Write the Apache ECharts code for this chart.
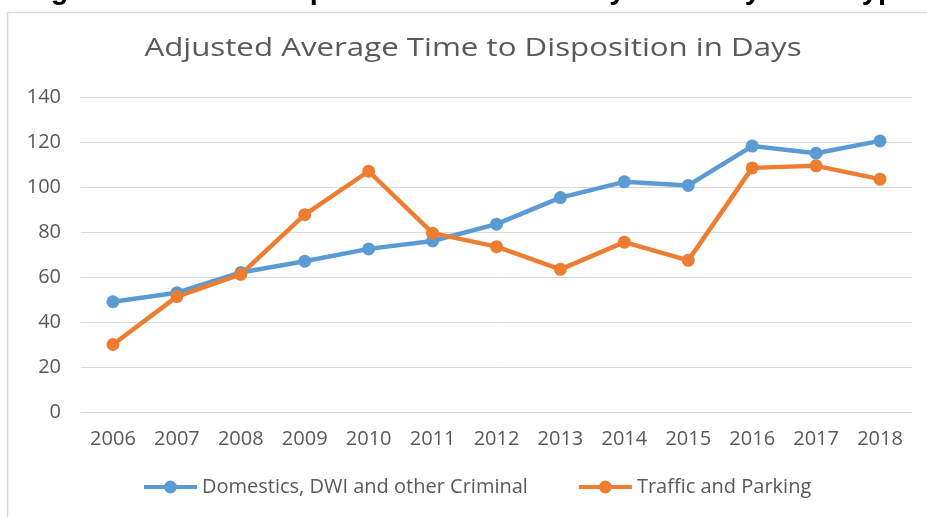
<!DOCTYPE html>
<html>
<head>
<meta charset="utf-8">
<script src="https://cdn.jsdelivr.net/npm/echarts@6/dist/echarts.min.js"></script>
<style>
html,body{margin:0;padding:0;background:#fff;}
#c{width:927px;height:517px;}
</style>
</head>
<body>
<div id="c"></div>
<script>
const figureTitle = "Figure 6. Time to Disposition of Non-Felony Cases by Case Type";
const chartTitle = "Adjusted Average Time to Disposition in Days";
const years = ["2006","2007","2008","2009","2010","2011","2012","2013","2014","2015","2016","2017","2018"];
const seriesNames = ["Domestics, DWI and other Criminal", "Traffic and Parking"];
const criminal = [49, 53, 62, 67, 72.5, 76, 83.5, 95.3, 102.3, 100.7, 118.2, 115, 120.5];
const traffic = [30, 51.3, 61.2, 87.7, 107, 79.5, 73.5, 63.4, 75.5, 67.4, 108.5, 109.4, 103.5];
const yTicks = [0, 20, 40, 60, 80, 100, 120, 140];

const font = "'Open Sans', sans-serif";
const chart = echarts.init(document.getElementById('c'), null, {renderer: 'canvas'});
chart.setOption({
  animation: false,
  backgroundColor: '#fff',
  graphic: [
    {type: 'rect', shape: {x: 7.5, y: 12.5, width: 960, height: 560}, style: {fill: 'none', stroke: '#d9d9d9', lineWidth: 1.5}, z: -1},
    {type: 'text', x: 25, y: 5, style: {text: figureTitle, font: "bold 29px 'Liberation Sans', Arial, sans-serif", fill: '#000', verticalAlign: 'bottom'}},
    {type: 'text', x: 473, y: 49, scaleX: 1.25, style: {text: chartTitle, font: "25px 'Open Sans', sans-serif", fill: '#595959', align: 'center', verticalAlign: 'middle'}}
  ],
  grid: {left: 81, right: 15, top: 97, bottom: 105, containLabel: false},
  legend: {
    top: 472,
    left: 137,
    itemWidth: 53,
    itemHeight: 16,
    itemGap: 49,
    lineStyle: {width: 4},
    textStyle: {fontFamily: font, fontSize: 20, color: '#595959'},
    data: seriesNames
  },
  xAxis: {
    type: 'category',
    data: years,
    boundaryGap: true,
    axisLine: {show: true, lineStyle: {color: '#d9d9d9'}},
    axisTick: {show: false},
    axisLabel: {fontFamily: font, fontSize: 20, color: '#595959', margin: 17}
  },
  yAxis: {
    type: 'value',
    min: yTicks[0],
    max: yTicks[yTicks.length - 1],
    interval: 20,
    axisLine: {show: false},
    axisTick: {show: false},
    splitLine: {lineStyle: {color: '#d9d9d9', width: 1}},
    axisLabel: {fontFamily: font, fontSize: 20, color: '#595959', margin: 20}
  },
  series: [
    {
      name: seriesNames[0], type: 'line', data: criminal,
      symbol: 'circle', symbolSize: 13,
      lineStyle: {width: 4.5, color: '#5B9BD5'},
      itemStyle: {color: '#5B9BD5'}
    },
    {
      name: seriesNames[1], type: 'line', data: traffic,
      symbol: 'circle', symbolSize: 13,
      lineStyle: {width: 4.5, color: '#ED7D31'},
      itemStyle: {color: '#ED7D31'}
    }
  ]
});
</script>
</body>
</html>
